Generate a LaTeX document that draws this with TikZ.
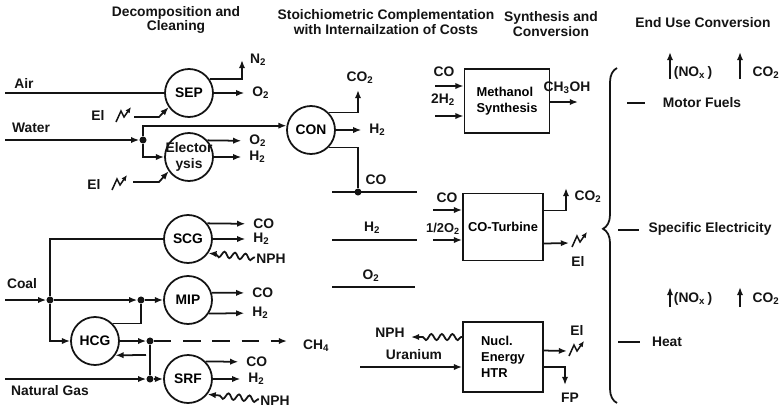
\documentclass[tikz,border=0pt]{standalone}
\usepackage{fontspec}
\setmainfont{Liberation Sans}
\usepackage{tikz}
\usetikzlibrary{arrows.meta, positioning, calc, decorations.pathmorphing, decorations.pathreplacing}
\definecolor{myink}{RGB}{20,20,20}
\tikzset{
  unit/.style={circle, draw=myink, line width=1.5pt, minimum size=1.44cm, inner sep=0pt},
  plant/.style={rectangle, draw=myink, line width=1.5pt, inner sep=1pt,
    font=\fontsize{11}{13.5}\selectfont\bfseries},
  lbl/.style={inner sep=1pt, text=myink},
  title/.style={align=center, inner sep=0pt, text=myink},
  junc/.style={circle, fill=myink, inner sep=0pt, minimum size=6pt},
  arrow/.style={-{Latex[length=7pt,width=5.4pt]}, line width=1.5pt, color=myink},
  outarrow/.style={arrow, shorten >=2mm},
  line/.style={line width=1.5pt, color=myink},
  waveline/.style={arrow, decorate, decoration={snake, amplitude=2.6pt,
    segment length=9pt, pre length=1pt, post length=6pt}},
  bolt/.pic={\draw[-{Latex[length=5pt,width=4.4pt]}, line width=1.3pt, color=myink]
    (0,0) -- (5,-11) -- (8,-5) -- (15,-15);}
}

\begin{document}
\begin{tikzpicture}[x=0.03cm, y=-0.03cm, font=\fontsize{11.8}{12.5}\selectfont\bfseries]
  \useasboundingbox[fill=white] (0,0) rectangle (783,412);

  % Column headings
  \node[title] (hdec) at (176,20) {Decomposition and\\Cleaning};
  \node[title] (hsto) at (386,22) {Stoichiometric Complementation\\with Internailzation of Costs};
  \node[title] (hsyn) at (551,24) {Synthesis and\\Conversion};
  \node[title] (hend) at (703,23) {End Use Conversion};

  % Raw inputs
  \node[lbl] (air) at (24,83) {Air};
  \node[lbl] (water) at (31,128) {Water};
  \node[lbl] (coal) at (22,284) {Coal};
  \node[lbl] (gas) at (50,391) {Natural Gas};
  \coordinate (airin) at (5,93);
  \coordinate (waterin) at (5,140);
  \coordinate (coalin) at (5,300);
  \coordinate (gasin) at (5,379);

  % Decomposition and cleaning units
  \node[unit] (sep) at (189,93) {SEP};
  \node[unit] (ely) at (189,157) {};
  \node[lbl, align=center, font=\fontsize{11.8}{14}\selectfont\bfseries] (elytxt) at (ely) {Elector\\ysis};
  \node[unit] (con) at (311,130) {CON};
  \node[unit] (scg) at (188,239) {SCG};
  \node[unit] (mip) at (188,300) {MIP};
  \node[unit] (hcg) at (95,341) {HCG};
  \node[unit] (srf) at (188,379) {SRF};

  % Junctions
  \node[junc] (dw) at (143,140) {};
  \node[junc] (dc) at (50,300) {};
  \node[junc] (dm) at (141,300) {};
  \node[junc] (dh) at (150,341) {};
  \node[junc] (dg) at (150,379) {};
  \node[junc] (dco) at (358,192) {};
  \coordinate (hret) at (146,355);

  % Feed lines
  \draw[line] (airin) -- (sep);
  \draw[arrow] (waterin) -- (dw);
  \draw[arrow] (dw) |- (con.170);
  \draw[arrow] (dw) |- (ely);
  \draw[arrow] (coalin) -- (dc);
  \draw[line] (dc) |- (scg);
  \draw[arrow] (dc) -- (dm);
  \draw[arrow] (dm) -- (mip);
  \draw[arrow] (dc) |- (hcg);
  \draw[line] (hcg.45) -| (dm);
  \draw[arrow] (hcg) -- (dh);
  \draw[line] (dh) -- (dg);
  \draw[arrow] (gasin) -- (dg);
  \draw[arrow] (dg) -- (srf);
  \draw[arrow] (hret) -- (hcg.-35);

  % Electricity into SEP and electrolysis
  \node[lbl] (el1) at (98,115) {El};
  \pic at (116,122) {bolt};
  \coordinate (el1s) at (134,117);
  \draw[arrow] (el1s) -- ++(25,0) -- (sep.215);
  \node[lbl] (el2) at (94,184) {El};
  \pic at (112,190) {bolt};
  \coordinate (el2s) at (133,182);
  \draw[arrow] (el2s) -- ++(26,0) -- (ely.215);

  % SEP products
  \coordinate (n2tip) at (242,60);
  \node[lbl] (n2) at (258,60) {N\textsubscript{2}};
  \draw[arrow] (sep.34) -| (n2tip);
  \node[lbl, anchor=west] (sepo2) at (251,93) {O\textsubscript{2}};
  \draw[outarrow] (sep) -- (sepo2);

  % Electrolysis products
  \node[lbl, anchor=west] (elyo2) at (248,141) {O\textsubscript{2}};
  \draw[outarrow] (ely.42) -- (elyo2);
  \node[lbl, anchor=west] (elyh2) at (248,157) {H\textsubscript{2}};
  \draw[outarrow] (ely) -- (elyh2);

  % CON products
  \coordinate (co2tip) at (358,90);
  \node[lbl] (conco2) at (360,78) {CO\textsubscript{2}};
  \draw[arrow] (con.45) -| (co2tip);
  \node[lbl, anchor=west] (conh2) at (368,130) {H\textsubscript{2}};
  \draw[outarrow] (con) -- (conh2);
  \draw[line] (con.-45) -| (dco);

  % Gasifier products
  \node[lbl, anchor=west] (scgco) at (252,224) {CO};
  \draw[outarrow] (scg.39) -- (scgco);
  \node[lbl, anchor=west] (scgh2) at (252,239) {H\textsubscript{2}};
  \draw[outarrow] (scg) -- (scgh2);
  \node[lbl, anchor=west] (scgnph) at (255,259) {NPH};
  \draw[waveline] (scgnph) -- (scg.-35);
  \node[lbl, anchor=west] (mipco) at (251,293) {CO};
  \draw[outarrow] (mip.17) -- (mipco);
  \node[lbl, anchor=west] (miph2) at (251,313) {H\textsubscript{2}};
  \draw[outarrow] (mip.-33) -- (miph2);
  \coordinate (ch4tip) at (287,341);
  \draw[arrow, dash pattern=on 15pt off 10pt] (dh) -- (ch4tip);
  \node[lbl] (ch4) at (316,346) {CH\textsubscript{4}};
  \node[lbl, anchor=west] (srfco) at (245,362) {CO};
  \draw[outarrow] (srf.45) -- (srfco);
  \node[lbl, anchor=west] (srfh2) at (247,379) {H\textsubscript{2}};
  \draw[outarrow] (srf) -- (srfh2);
  \node[lbl, anchor=west] (srfnph) at (259,401) {NPH};
  \draw[waveline] (srfnph) -- (srf.-38);

  % Stoichiometric buses
  \coordinate (cobus1) at (332,192); \coordinate (cobus2) at (417,192);
  \coordinate (hbus1) at (332,240);  \coordinate (hbus2) at (417,240);
  \coordinate (obus1) at (332,287);  \coordinate (obus2) at (415,287);
  \draw[line] (cobus1) -- (cobus2);
  \draw[line] (hbus1) -- (hbus2);
  \draw[line] (obus1) -- (obus2);
  \node[lbl] (cobl) at (376,180) {CO};
  \node[lbl] (hbl) at (372,228) {H\textsubscript{2}};
  \node[lbl] (obl) at (371,276) {O\textsubscript{2}};

  % Methanol synthesis
  \node[plant, align=left, minimum width=2.55cm, minimum height=1.92cm] (meth) at (507,101) {Methanol\\Synthesis};
  \coordinate (mcoin) at (435,86);
  \coordinate (mh2in) at (435,116);
  \draw[arrow] (mcoin) -- (mcoin -| meth.west);
  \draw[arrow] (mh2in) -- (mh2in -| meth.west);
  \node[lbl] (mcol) at (444,72) {CO};
  \node[lbl] (mh2l) at (443,100) {2H\textsubscript{2}};
  \coordinate (ch3tip) at (578,102);
  \draw[arrow] (meth.east |- ch3tip) -- (ch3tip);
  \node[lbl] (ch3oh) at (567,88) {CH\textsubscript{3}OH};

  % CO turbine
  \node[plant, minimum width=2.4cm, minimum height=2.01cm] (cot) at (503,227) {CO-Turbine};
  \coordinate (tcoin) at (433,210);
  \coordinate (to2in) at (433,240);
  \draw[arrow] (tcoin) -- (tcoin -| cot.west);
  \draw[arrow] (to2in) -- (to2in -| cot.west);
  \node[lbl] (tcol) at (447,198) {CO};
  \node[lbl, font=\fontsize{11}{12}\selectfont\bfseries] (to2l) at (443,229) {1/2O\textsubscript{2}};
  \coordinate (tco2tip) at (566,188);
  \draw[arrow] (cot.22) -| (tco2tip);
  \node[lbl] (tco2l) at (588,197) {CO\textsubscript{2}};
  \coordinate (telend) at (569,243);
  \draw[arrow] (cot.-22) -- (telend);
  \pic at (572,247) {bolt};
  \node[lbl] (tell) at (578,261) {El};

  % Nuclear heat source
  \node[plant, align=left, minimum width=2.4cm, minimum height=2.1cm] (htr) at (503,357) {Nucl.\\Energy\\HTR};
  \coordinate (uin) at (360,367);
  \draw[arrow] (uin) -- (uin -| htr.west);
  \node[lbl] (ural) at (414,355) {Uranium};
  \coordinate (nphtip) at (411,337);
  \draw[waveline] (htr.154) -- (nphtip);
  \node[lbl] (nphh) at (390,333) {NPH};
  \coordinate (htrelend) at (567,351);
  \draw[arrow] (htr.9) -- (htrelend);
  \pic at (569,356) {bolt};
  \node[lbl] (htrell) at (577,330) {El};
  \coordinate (fptip) at (565,385);
  \draw[arrow] (htr.-14) -| (fptip);
  \node[lbl] (fpl) at (570,398) {FP};

  % End use
  \draw[line, decorate, decoration={brace, amplitude=0.42cm, aspect=0.52}] (617,403) -- (617,68);
  \coordinate (fueld) at (627,103);
  \coordinate (elecd) at (618,230);
  \coordinate (heatd) at (618,342);
  \draw[line] (fueld) -- ++(18,0);
  \draw[line] (elecd) -- ++(21,0);
  \draw[line] (heatd) -- ++(22,0);
  \node[lbl] (fuel) at (702,103) {Motor Fuels};
  \node[lbl] (elec) at (710,229) {Specific Electricity};
  \node[lbl] (heat) at (667,342) {Heat};

  % Emissions
  \coordinate (nox1b) at (670,79);  \coordinate (nox1t) at (670,52);
  \coordinate (co21b) at (740,79);  \coordinate (co21t) at (740,52);
  \coordinate (nox2b) at (670,307); \coordinate (nox2t) at (670,287);
  \coordinate (co22b) at (740,307); \coordinate (co22t) at (740,287);
  \draw[arrow] (nox1b) -- (nox1t);
  \draw[arrow] (co21b) -- (co21t);
  \draw[arrow] (nox2b) -- (nox2t);
  \draw[arrow] (co22b) -- (co22t);
  \node[lbl] (nox1) at (693,73) {(NO\textsubscript{x}\,)};
  \node[lbl] (co21) at (766,73) {CO\textsubscript{2}};
  \node[lbl] (nox2) at (693,299) {(NO\textsubscript{x}\,)};
  \node[lbl] (co22) at (766,299) {CO\textsubscript{2}};
\end{tikzpicture}
\end{document}
